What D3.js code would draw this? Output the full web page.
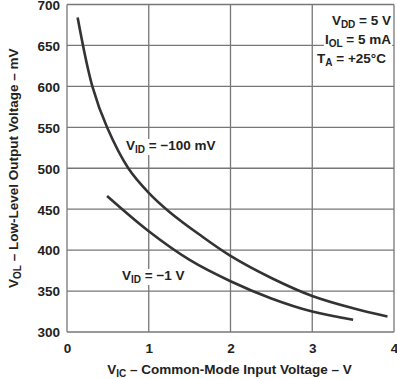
<!DOCTYPE html>
<html>
<head>
<meta charset="utf-8">
<script src="https://cdn.jsdelivr.net/npm/d3@7"></script>
<style>
  body { margin: 0; background: #fff; }
  text { font-family: "Liberation Sans", Arial, sans-serif; font-weight: bold; fill: #222; }
</style>
</head>
<body>
<svg id="chart" width="397" height="379"></svg>
<script>

// V_IC (V) vs V_OL (mV)
var vic100 = [0.13, 0.31, 0.49, 0.75, 1.0, 1.25, 1.62, 2.0, 2.5, 3.0, 3.5, 3.92];
var vol100 = [684, 600, 550, 500, 470, 447, 419, 393, 366, 344, 329, 319];

var vic1 = [0.49, 1.0, 1.5, 2.0, 2.5, 3.0, 3.5];
var vol1 = [466, 423, 388, 362, 341, 325, 315];

var xTicks = [0, 1, 2, 3, 4];
var yTicks = [300, 350, 400, 450, 500, 550, 600, 650, 700];

var svg = d3.select('#chart'),
    plotL = 67, plotR = 394, plotT = 4.5, plotB = 332;

var x = d3.scaleLinear().domain([0, 4]).range([plotL, plotR]);
var y = d3.scaleLinear().domain([300, 700]).range([plotB, plotT]);

var grid = svg.append('g')
    .attr('stroke', '#777')
    .attr('stroke-width', 1.3);

grid.selectAll('.gx')
    .data(xTicks)
    .enter().append('line')
    .attr('x1', function (d) { return x(d); })
    .attr('x2', function (d) { return x(d); })
    .attr('y1', plotT)
    .attr('y2', plotB);

grid.selectAll('.gy')
    .data(yTicks)
    .enter().append('line')
    .attr('x1', plotL)
    .attr('x2', plotR)
    .attr('y1', function (d) { return y(d); })
    .attr('y2', function (d) { return y(d); });

// tick labels
svg.append('g')
    .attr('transform', 'translate(0,' + plotB + ')')
    .call(d3.axisBottom(x).tickValues(xTicks).tickSize(0).tickPadding(11).tickFormat(d3.format('d')))
    .call(function (g) { g.select('.domain').remove(); })
    .selectAll('text')
    .style('font-size', '13.5px')
    .style('font-family', '"Liberation Sans", Arial, sans-serif')
    .attr('fill', '#222');

svg.append('g')
    .attr('transform', 'translate(' + plotL + ',0.5)')
    .call(d3.axisLeft(y).tickValues(yTicks).tickSize(0).tickPadding(7))
    .call(function (g) { g.select('.domain').remove(); })
    .selectAll('text')
    .style('font-size', '13.5px')
    .style('font-family', '"Liberation Sans", Arial, sans-serif')
    .attr('fill', '#222');

// curves
var line = d3.line()
    .x(function (d) { return x(d[0]); })
    .y(function (d) { return y(d[1]); })
    .curve(d3.curveCatmullRom.alpha(0.5));

svg.append('path')
    .datum(d3.zip(vic100, vol100))
    .attr('d', line)
    .attr('fill', 'none')
    .attr('stroke', '#333')
    .attr('stroke-width', 2.6);

svg.append('path')
    .datum(d3.zip(vic1, vol1))
    .attr('d', line)
    .attr('fill', 'none')
    .attr('stroke', '#333')
    .attr('stroke-width', 2.6);

// label with subscript and white box behind it
var label = function (px, py, main, sub, rest, anchor) {

    var t = svg.append('text')
        .attr('x', px)
        .attr('y', py)
        .attr('text-anchor', anchor || 'start')
        .style('font-size', '13.5px');

    t.append('tspan').text(main);
    t.append('tspan').attr('dy', 3).style('font-size', '10px').text(sub);
    t.append('tspan').attr('dy', -3).text(rest);

    var b = t.node().getBBox();
    svg.insert('rect', function () { return t.node(); })
        .attr('x', b.x - 1)
        .attr('y', b.y + 1)
        .attr('width', b.width + 2)
        .attr('height', b.height - 1)
        .attr('fill', '#fff');

};

label(126, 150, 'V', 'ID', ' = \u2212100 mV');
label(122, 280, 'V', 'ID', ' = \u22121 V');
label(391, 25, 'V', 'DD', ' = 5 V', 'end');
label(391, 44, 'I', 'OL', ' = 5 mA', 'end');
label(386, 63, 'T', 'A', ' = +25\u00b0C', 'end');

// axis titles
var xt = svg.append('text')
    .attr('x', (plotL + plotR) / 2 - 1)
    .attr('y', 374)
    .attr('text-anchor', 'middle')
    .style('font-size', '13.5px');
xt.append('tspan').text('V');
xt.append('tspan').attr('dy', 3).style('font-size', '10px').text('IC');
xt.append('tspan').attr('dy', -3).text(' \u2013 Common-Mode Input Voltage \u2013 V');

var yt = svg.append('text')
    .attr('transform', 'translate(18,' + (plotT + plotB) / 2 + ') rotate(-90)')
    .attr('text-anchor', 'middle')
    .style('font-size', '13.5px');
yt.append('tspan').text('V');
yt.append('tspan').attr('dy', 3).style('font-size', '10px').text('OL');
yt.append('tspan').attr('dy', -3).text(' \u2013 Low-Level Output Voltage \u2013 mV');

</script>
</body>
</html>
